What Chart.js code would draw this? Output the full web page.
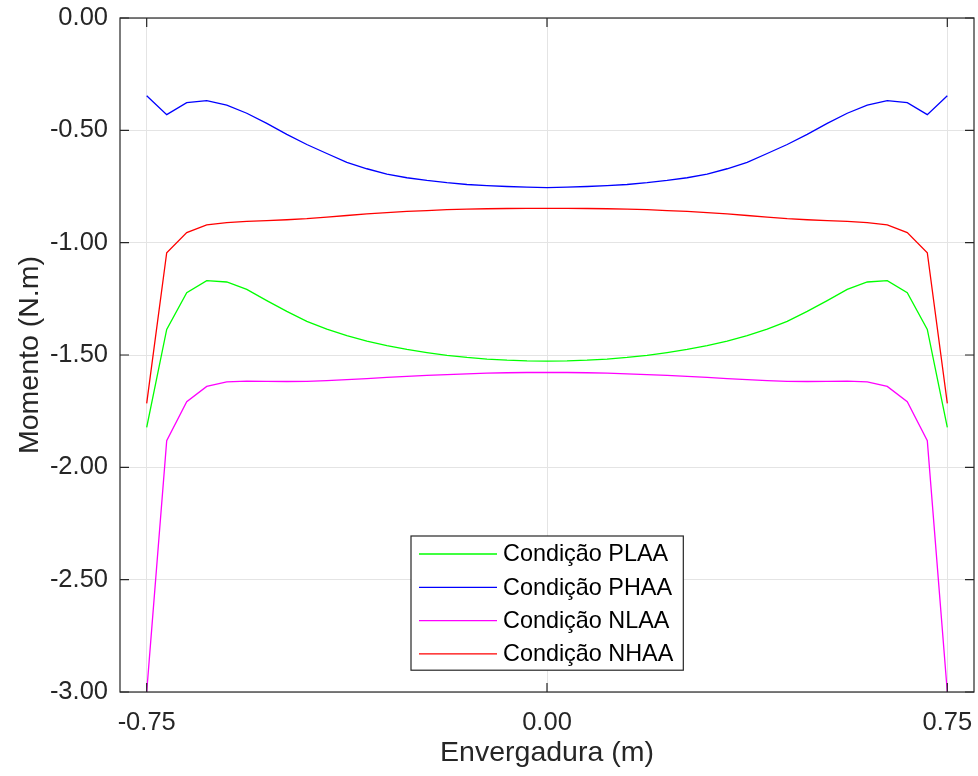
<!DOCTYPE html>
<html><head><meta charset="utf-8">
<script src="https://cdn.jsdelivr.net/npm/chart.js@4/dist/chart.umd.min.js"></script>
<style>html,body{margin:0;padding:0;background:#fff}#wrap{width:978px;height:776px}</style>
</head><body><div id="wrap"><canvas id="c" width="978" height="776"></canvas></div>
<script>
const envergadura = [-0.75,-0.7125,-0.675,-0.6375,-0.6,-0.5625,-0.525,-0.4875,-0.45,-0.4125,-0.375,-0.3375,-0.3,-0.2625,-0.225,-0.1875,-0.15,-0.1125,-0.075,-0.0375,0,
  0.0375,0.075,0.1125,0.15,0.1875,0.225,0.2625,0.3,0.3375,0.375,0.4125,0.45,0.4875,0.525,0.5625,0.6,0.6375,0.675,0.7125,0.75];
const condPLAA = [-1.822,-1.386,-1.223,-1.169,-1.175,-1.208,-1.258,-1.306,-1.350,-1.385,-1.414,-1.438,-1.458,-1.475,-1.489,-1.502,-1.511,-1.518,-1.523,-1.526,-1.527,
  -1.526,-1.523,-1.518,-1.511,-1.502,-1.489,-1.475,-1.458,-1.438,-1.414,-1.385,-1.350,-1.306,-1.258,-1.208,-1.175,-1.169,-1.223,-1.386,-1.822];
const condPHAA = [-0.346,-0.430,-0.377,-0.368,-0.388,-0.424,-0.469,-0.518,-0.563,-0.603,-0.643,-0.671,-0.695,-0.711,-0.723,-0.733,-0.741,-0.746,-0.750,-0.753,-0.755,
  -0.753,-0.750,-0.746,-0.741,-0.733,-0.723,-0.711,-0.695,-0.671,-0.643,-0.603,-0.563,-0.518,-0.469,-0.424,-0.388,-0.368,-0.377,-0.430,-0.346];
const condNLAA = [-3.000,-1.881,-1.708,-1.640,-1.620,-1.616,-1.617,-1.618,-1.617,-1.614,-1.610,-1.605,-1.600,-1.595,-1.591,-1.587,-1.584,-1.581,-1.579,-1.578,-1.577,
  -1.578,-1.579,-1.581,-1.584,-1.587,-1.591,-1.595,-1.600,-1.605,-1.610,-1.614,-1.617,-1.618,-1.617,-1.616,-1.620,-1.640,-1.708,-1.881,-3.000];
const condNHAA = [-1.715,-1.045,-0.955,-0.921,-0.911,-0.905,-0.902,-0.898,-0.893,-0.886,-0.879,-0.872,-0.866,-0.861,-0.857,-0.853,-0.851,-0.849,-0.848,-0.847,-0.847,
  -0.847,-0.848,-0.849,-0.851,-0.853,-0.857,-0.861,-0.866,-0.872,-0.879,-0.886,-0.893,-0.898,-0.902,-0.905,-0.911,-0.921,-0.955,-1.045,-1.715];
const seriesNames = ['Condição PLAA','Condição PHAA','Condição NLAA','Condição NHAA'];
const xTicks = [-0.75, 0, 0.75];
const yTicks = [0, -0.5, -1, -1.5, -2, -2.5, -3];

const FONT = 'Liberation Sans, Arial, Helvetica, sans-serif';
const TXT = '#262626';
const colors = ['#00ff00','#0000ff','#ff00ff','#ff0000'];
const seriesValues = [condPLAA, condPHAA, condNLAA, condNHAA];

function pts(vals){ return envergadura.map((x,i)=>({x:x,y:vals[i]})); }

const framePlugin = {
  id:'frame',
  afterDatasetsDraw(chart){
    const {ctx, chartArea:a, scales} = chart;
    ctx.save();
    ctx.strokeStyle = '#262626';
    ctx.lineWidth = 1.2;
    ctx.strokeRect(a.left, a.top, a.right-a.left, a.bottom-a.top);
    const tl = 9;
    ctx.beginPath();
    yTicks.forEach(v=>{
      const y = scales.y.getPixelForValue(v);
      ctx.moveTo(a.left, y); ctx.lineTo(a.left+tl, y);
      ctx.moveTo(a.right, y); ctx.lineTo(a.right-tl, y);
    });
    xTicks.forEach(v=>{
      const x = scales.x.getPixelForValue(v);
      ctx.moveTo(x, a.bottom); ctx.lineTo(x, a.bottom-tl);
      ctx.moveTo(x, a.top); ctx.lineTo(x, a.top+tl);
    });
    ctx.stroke();
    // legend inside axes
    const ds = chart.data.datasets;
    const bx = a.left + 291, by = a.top + 518, rowH = 33.3;
    ctx.font = '23.4px ' + FONT;
    let tw = 0; ds.forEach(d=>{ tw = Math.max(tw, ctx.measureText(d.label).width); });
    const bw = 92 + tw + 10, bh = rowH*ds.length + 1;
    ctx.fillStyle = '#fff';
    ctx.fillRect(bx, by, bw, bh);
    ctx.strokeStyle = '#262626'; ctx.lineWidth = 1.2;
    ctx.strokeRect(bx, by, bw, bh);
    ds.forEach((d,i)=>{
      const cy = by + 18 + i*rowH;
      ctx.strokeStyle = d.borderColor; ctx.lineWidth = 1.3;
      ctx.beginPath(); ctx.moveTo(bx+8, cy); ctx.lineTo(bx+86, cy); ctx.stroke();
      ctx.fillStyle = '#000'; ctx.textBaseline = 'middle'; ctx.textAlign = 'left';
      ctx.fillText(d.label, bx+92, cy+1);
    });
    ctx.restore();
  }
};

function zeroPad(s){ s.paddingLeft = 0; s.paddingRight = 0; s.paddingTop = 0; s.paddingBottom = 0; }

new Chart(document.getElementById('c'), {
  type:'line',
  data:{ datasets: seriesNames.map((n,i)=>({
    label:n, data:pts(seriesValues[i]), borderColor:colors[i], backgroundColor:colors[i],
    borderWidth:1.3, pointRadius:0, tension:0, fill:false
  }))},
  options:{
    responsive:false, animation:false, devicePixelRatio:1,
    layout:{padding:{top:18,right:4,left:0,bottom:0}},
    plugins:{legend:{display:false}, tooltip:{enabled:false}},
    scales:{
      x:{type:'linear', min:-0.8, max:0.8,
        afterBuildTicks:s=>{ s.ticks = xTicks.map(v=>({value:v})); },
        afterFit:s=>{ s.height = 84; zeroPad(s); },
        ticks:{callback:v=>Number(v).toFixed(2), font:{family:FONT,size:25.5}, color:TXT, padding:16, maxRotation:0, autoSkip:false},
        grid:{color:'#e4e4e4', lineWidth:1, drawTicks:false},
        border:{display:false},
        title:{display:true, text:'Envergadura (m)', font:{family:FONT,size:28.5}, color:TXT, padding:{top:0,bottom:6}}
      },
      y:{type:'linear', min:-3, max:0,
        afterBuildTicks:s=>{ s.ticks = yTicks.map(v=>({value:v})); },
        afterFit:s=>{ s.width = 120; zeroPad(s); },
        ticks:{callback:v=>Number(v).toFixed(2), font:{family:FONT,size:25.5}, color:TXT, padding:12, autoSkip:false},
        grid:{color:'#e4e4e4', lineWidth:1, drawTicks:false},
        border:{display:false},
        title:{display:true, text:'Momento (N.m)', font:{family:FONT,size:28.5}, color:TXT, padding:{top:13,bottom:0}}
      }
    }
  },
  plugins:[framePlugin]
});
</script></body></html>
